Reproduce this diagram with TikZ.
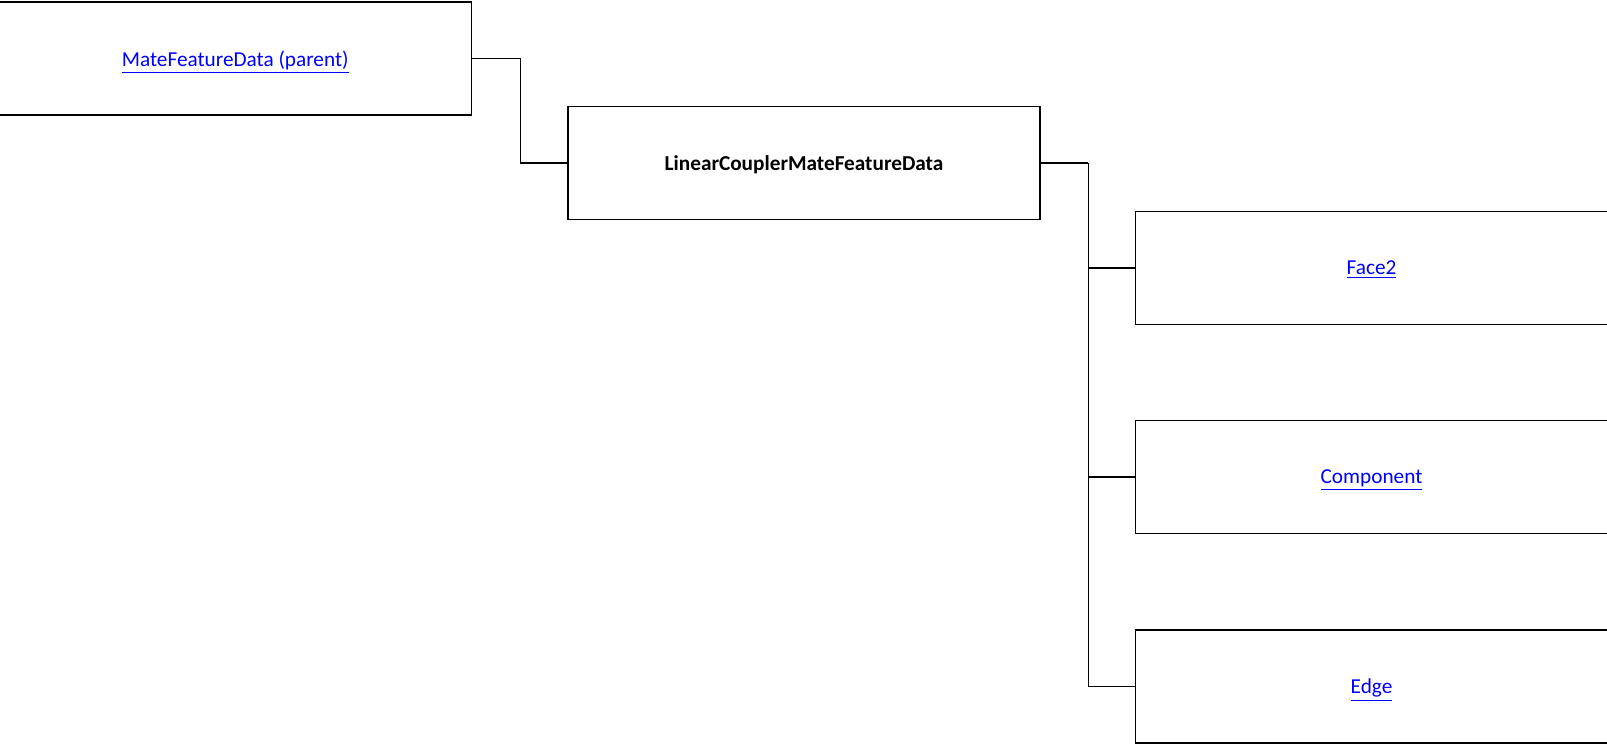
\documentclass[tikz,border=0pt]{standalone}
\usepackage{fontspec}
\setmainfont{Carlito}
\usetikzlibrary{positioning}

\tikzset{
  classbox/.style={draw, line width=0.6pt, minimum width=9.44cm, minimum height=2.26cm, inner sep=0pt, text depth=0pt, font=\fontsize{12.1}{14}\selectfont},
  linkbox/.style={classbox, text=blue},
  wire/.style={line width=0.6pt}
}
\newcommand{\lnk}[1]{\underline{#1}}

\begin{document}
\begin{tikzpicture}
    \useasboundingbox (0,0) rectangle (32.14,-14.9);

    % boxes
    \node[linkbox] (parent) at (4.705,-1.17) {\lnk{MateFeatureData (parent)}};
    \node[classbox, font=\fontsize{12.1}{14}\selectfont\bfseries] (lcmfd) at (16.08,-3.26) {LinearCouplerMateFeatureData};
    \node[linkbox] (face) at (27.43,-5.36) {\lnk{Face2}};
    \node[linkbox] (comp) at (27.43,-9.54) {\lnk{Component}};
    \node[linkbox] (edge) at (27.43,-13.73) {\lnk{Edge}};

    % connectors
    \draw[wire] (parent.east) -- ++(0.97,0) |- (lcmfd.west);
    \coordinate (bus) at ([xshift=0.95cm]lcmfd.east);
    \draw[wire] (lcmfd.east) -- (bus);
    \foreach \kid in {face, comp, edge} {
        \draw[wire] (bus) |- (\kid.west);
    }
\end{tikzpicture}
\end{document}
